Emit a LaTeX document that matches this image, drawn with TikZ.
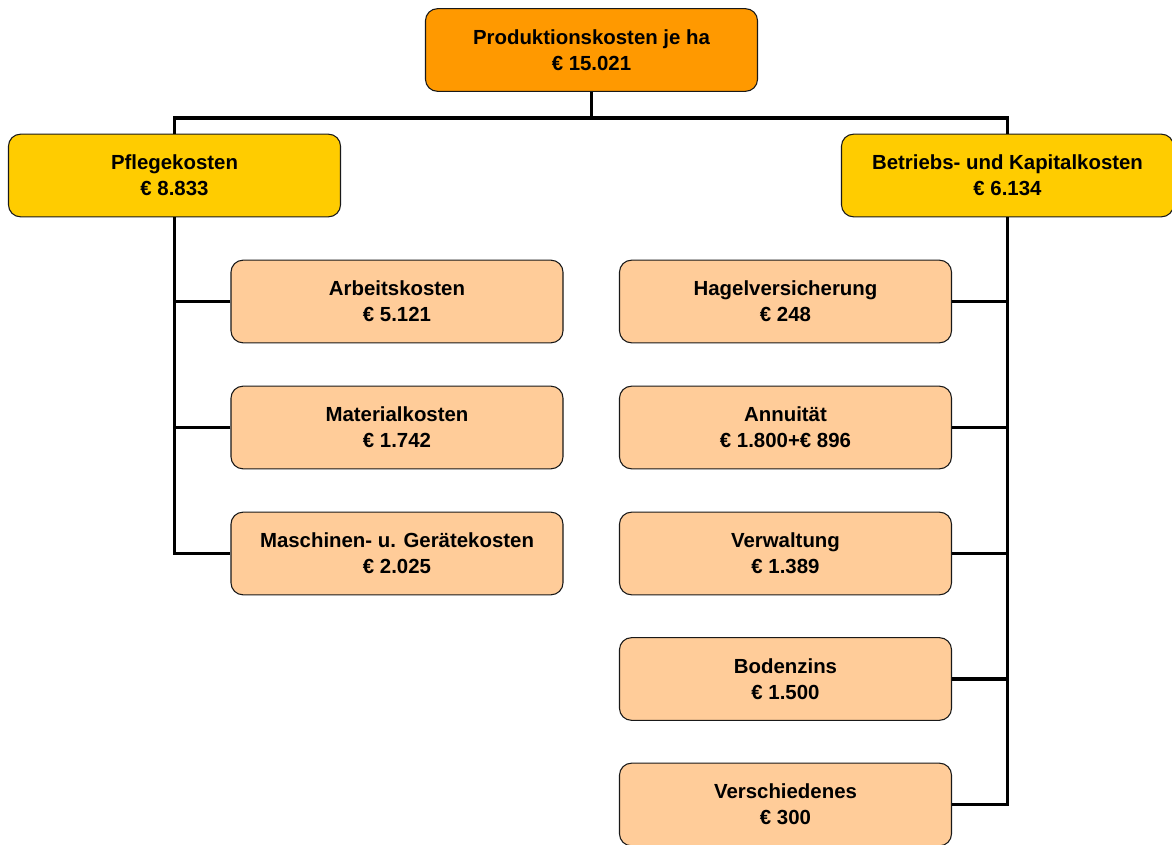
\documentclass[tikz,border=0pt]{standalone}
\usepackage{fontspec}
\setmainfont{Liberation Sans}
\definecolor{topcol}{RGB}{255, 153, 0}
\definecolor{midcol}{RGB}{255, 204, 0}
\definecolor{leafcol}{RGB}{255, 204, 153}
\begin{document}
\begin{tikzpicture}[x=0.75pt,y=-0.75pt,
    box/.style={draw=black!90,line width=0.8pt,rounded corners=9pt,minimum width=249pt,minimum height=62pt,
                align=center,font=\fontsize{15.3}{19.5}\selectfont\bfseries,inner sep=2pt},
    link/.style={line width=2.3pt}]
        \useasboundingbox (0,0) rectangle (1172,845);
        \coordinate (t) at (591.5,50);
        \coordinate (bar) at (591.5,118);
        \coordinate (p) at (174.5,175.5);
        \coordinate (b) at (1007.5,175.5);

        \coordinate (l1) at (397,301.5);
        \coordinate (l2) at (397,427.5);
        \coordinate (l3) at (397,553.5);

        \coordinate (r1) at (785.5,301.5);
        \coordinate (r2) at (785.5,427.5);
        \coordinate (r3) at (785.5,553.5);
        \coordinate (r4) at (785.5,679);
        \coordinate (r5) at (785.5,804.5);

        \node[box,fill=topcol] (top) at (t) {Produktionskosten je ha\\€ 15.021};
        \node[box,fill=midcol] (pk) at (p) {Pflegekosten\\€ 8.833};
        \node[box,fill=midcol] (bk) at (b) {Betriebs- und Kapitalkosten\\€ 6.134};
        \node[box,fill=leafcol] (arb) at (l1) {Arbeitskosten\\€ 5.121};
        \node[box,fill=leafcol] (mat) at (l2) {Materialkosten\\€ 1.742};
        \node[box,fill=leafcol] (masch) at (l3) {Maschinen- u. Gerätekosten\\€ 2.025};
        \node[box,fill=leafcol] (hag) at (r1) {Hagelversicherung\\€ 248};
        \node[box,fill=leafcol] (ann) at (r2) {Annuität\\€ 1.800+€ 896};
        \node[box,fill=leafcol] (verw) at (r3) {Verwaltung\\€ 1.389};
        \node[box,fill=leafcol] (bod) at (r4) {Bodenzins\\€ 1.500};
        \node[box,fill=leafcol] (versch) at (r5) {Verschiedenes\\€ 300};

        \draw[link] (top.south) -- (bar);
        \draw[link] (pk.north) |- (bar) -| (bk.north);
        \draw[link] (pk.south) |- (masch.west);
        \draw[link] (arb.west) -- (arb.west -| pk.south);
        \draw[link] (mat.west) -- (mat.west -| pk.south);
        \draw[link] (bk.south) |- (versch.east);
        \draw[link] (hag.east) -- (hag.east -| bk.south);
        \draw[link] (ann.east) -- (ann.east -| bk.south);
        \draw[link] (verw.east) -- (verw.east -| bk.south);
        \draw[link] (bod.east) -- (bod.east -| bk.south);
    \end{tikzpicture}
\end{document}
